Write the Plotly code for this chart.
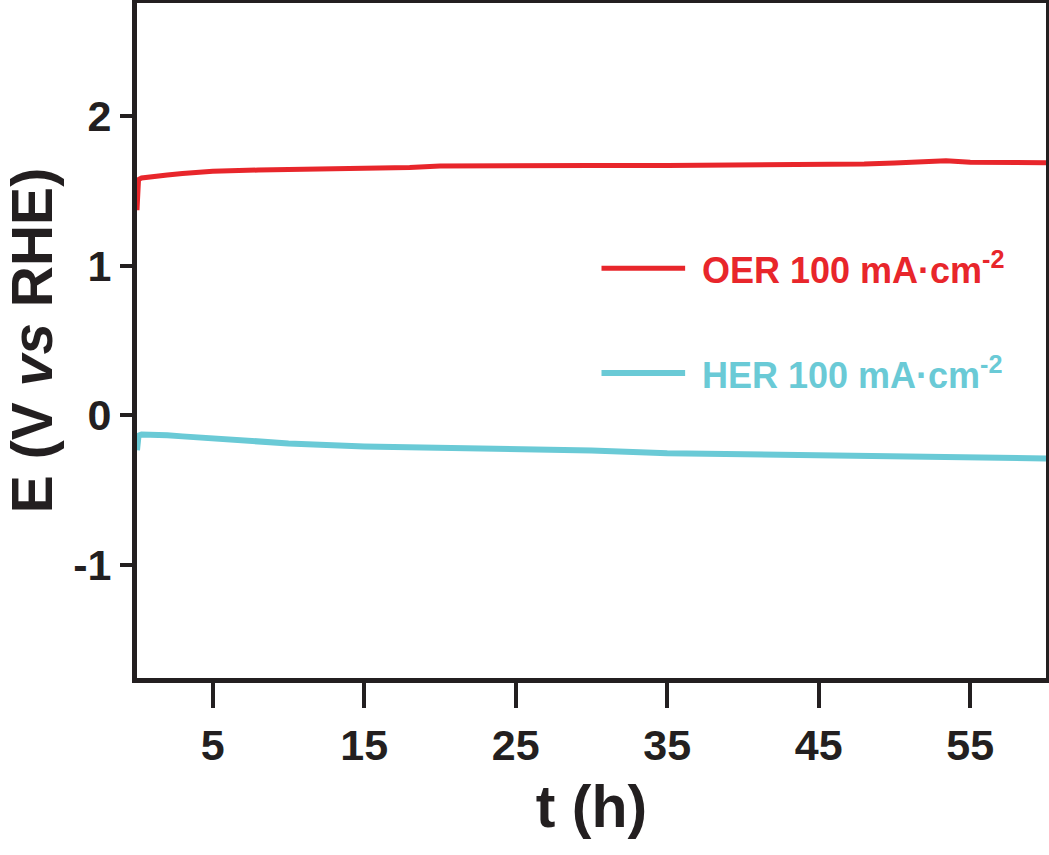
import plotly.graph_objects as go

# OER chronopotentiometry (red)
oer_t = [0, 0.03, 0.1, 0.3, 1, 2, 3, 5, 8, 10, 13, 15, 18, 20, 25, 30, 35, 40, 45, 48, 50, 52, 53.4, 55, 57, 60]
oer_E = [1.37, 1.50, 1.575, 1.585, 1.595, 1.605, 1.615, 1.630, 1.638, 1.640, 1.642, 1.645, 1.655, 1.665, 1.670, 1.668, 1.668, 1.670, 1.675, 1.678, 1.685, 1.690, 1.700, 1.690, 1.686, 1.687]

# HER chronopotentiometry (cyan)
her_t = [0, 0.03, 0.1, 0.3, 1, 2, 3, 5, 8, 10, 15, 20, 25, 30, 35, 40, 45, 50, 55, 60]
her_E = [-0.233, -0.17, -0.135, -0.128, -0.127, -0.132, -0.140, -0.153, -0.175, -0.187, -0.207, -0.215, -0.225, -0.235, -0.253, -0.258, -0.267, -0.272, -0.280, -0.287]

x_ticks = [5, 15, 25, 35, 45, 55]
y_ticks = [-1, 0, 1, 2]
y_ticktext = ["-1", "0", "1", "2"]

RED = "#E8262B"
CYAN = "#6ACAD6"
INK = "#231F20"
FONT = "Liberation Sans"

fig = go.Figure()
fig.add_trace(go.Scatter(x=oer_t, y=oer_E, mode="lines", line=dict(color=RED, width=5), showlegend=False))
fig.add_trace(go.Scatter(x=her_t, y=her_E, mode="lines", line=dict(color=CYAN, width=6), showlegend=False))

# manual legend
legend_items = [("OER 100 mA·cm<sup>-2</sup>", RED, 0.607, 5), ("HER 100 mA·cm<sup>-2</sup>", CYAN, 0.452, 6)]
for text, col, yy, w in legend_items:
    fig.add_shape(type="line", xref="paper", yref="paper", x0=0.511, x1=0.603, y0=yy, y1=yy,
                  line=dict(color=col, width=w))
    fig.add_annotation(xref="paper", yref="paper", x=0.619, y=yy, xanchor="left", yanchor="middle",
                       text="<b>" + text + "</b>", showarrow=False,
                       font=dict(family=FONT, size=36, color=col))

fig.update_layout(
    width=1049, height=855,
    margin=dict(l=137, r=3, t=3, b=177),
    paper_bgcolor="white", plot_bgcolor="white",
    font=dict(family=FONT, color=INK),
    showlegend=False,
)
fig.update_xaxes(
    range=[0, 60], tickvals=x_ticks, ticks="outside", ticklen=25, tickwidth=4, tickcolor=INK,
    showline=True, linewidth=5, linecolor=INK, mirror=True, showgrid=False, zeroline=False,
    tickfont=dict(family=FONT, size=43, color=INK, weight="bold"),
    title=dict(text="<b>t (h)</b>", font=dict(family=FONT, size=59, color=INK), standoff=20),
    automargin=False,
)
fig.update_yaxes(
    range=[-1.753, 2.753], tickvals=y_ticks, ticktext=y_ticktext, ticks="outside", ticklen=12, tickwidth=4, tickcolor=INK,
    showline=True, linewidth=5, linecolor=INK, mirror=True, showgrid=False, zeroline=False,
    tickfont=dict(family=FONT, size=43, color=INK, weight="bold"),
    title=dict(text="<b>E (V <i>vs</i> RHE)</b>", font=dict(family=FONT, size=57, color=INK), standoff=14),
    automargin=False,
)

fig.write_html("out.html")
